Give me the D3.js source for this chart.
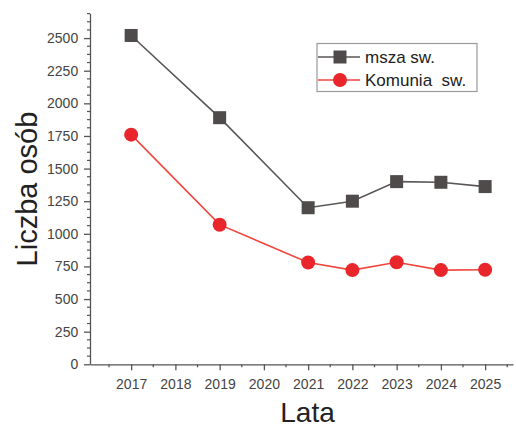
<!DOCTYPE html>
<html>
<head>
<meta charset="utf-8">
<script src="https://cdn.jsdelivr.net/npm/d3@7"></script>
<style>
  body { margin: 0; background: #fff; }
  text { font-family: "Liberation Sans", Arial, sans-serif; }
</style>
</head>
<body>
<div id="chart"></div>
<script>
// Dane
const lata = [2017, 2019, 2021, 2022, 2023, 2024, 2025];
const msza = [2520, 1890, 1200, 1250, 1400, 1395, 1362];
const komunia = [1760, 1070, 780, 722, 782, 722, 725];
const xTicks = [2017, 2018, 2019, 2020, 2021, 2022, 2023, 2024, 2025];
const yTicks = [0, 250, 500, 750, 1000, 1250, 1500, 1750, 2000, 2250, 2500];
const serie = [
    { nazwa: "msza sw.", wartosci: msza, kolor: "#4f4b4b", linia: "#5a5656", ksztalt: "square" },
    { nazwa: "Komunia  sw.", wartosci: komunia, kolor: "#e8262b", linia: "#f0463c", ksztalt: "circle" }
];

const width = 516, height = 429;

const svg = d3.select("#chart").append("svg")
    .attr("width", width)
    .attr("height", height);

const x = d3.scaleLinear()
    .domain([2016.07, 2025.63])
    .range([90, 513]);

const y = d3.scaleLinear()
    .domain([0, 2690])
    .range([364.3, 13.3]);

// Oś X
const xAxis = svg.append("g")
    .attr("transform", `translate(0,${y(0)})`);
xAxis.call(d3.axisBottom(x).tickValues(xTicks).tickFormat(d3.format("d")).tickSize(6).tickSizeOuter(0));
xAxis.selectAll("text").attr("font-size", 14).attr("fill", "#444").attr("dy", "1.15em");
xAxis.select(".domain").attr("stroke", "#555").attr("stroke-width", 1.3);
xAxis.selectAll(".tick line").attr("stroke", "#555").attr("stroke-width", 1.3);

// podziałka pomocnicza X
const xMinor = d3.range(2016.5, 2025.6, 1);
svg.append("g").selectAll("line")
    .data(xMinor)
    .enter()
    .append("line")
    .attr("x1", d => x(d))
    .attr("x2", d => x(d))
    .attr("y1", y(0))
    .attr("y2", y(0) + 3)
    .attr("stroke", "#555")
    .attr("stroke-width", 1.3);

// Oś Y
const yAxis = svg.append("g")
    .attr("transform", `translate(${x(2016.07)},0)`);
yAxis.call(d3.axisLeft(y).tickValues(yTicks).tickFormat(d3.format("d")).tickSize(6).tickSizeOuter(0));
yAxis.selectAll("text").attr("font-size", 14).attr("fill", "#444").attr("dx", "-0.2em");
yAxis.select(".domain").attr("stroke", "#555").attr("stroke-width", 1.3);
yAxis.selectAll(".tick line").attr("stroke", "#555").attr("stroke-width", 1.3);

// podziałka pomocnicza Y
const yMinor = d3.range(62.5, 2690, 62.5).filter(v => v % 250 !== 0);
svg.append("g").selectAll("line")
    .data(yMinor)
    .enter()
    .append("line")
    .attr("x1", x(2016.07))
    .attr("x2", x(2016.07) - 3)
    .attr("y1", d => y(d))
    .attr("y2", d => y(d))
    .attr("stroke", "#555")
    .attr("stroke-width", 1.2);

// Tytuły osi
svg.append("text")
    .attr("transform", "translate(37,189) rotate(-90)")
    .attr("text-anchor", "middle")
    .attr("font-size", 29)
    .attr("fill", "#222")
    .text("Liczba osób");

svg.append("text")
    .attr("x", 307.5)
    .attr("y", 422)
    .attr("text-anchor", "middle")
    .attr("font-size", 28)
    .attr("fill", "#222")
    .text("Lata");

// Linie i znaczniki
const line = d3.line()
    .x(d => x(d[0]))
    .y(d => y(d[1]));

serie.forEach(s => {
    const pts = lata.map((r, i) => [r, s.wartosci[i]]);
    svg.append("path")
        .datum(pts)
        .attr("fill", "none")
        .attr("stroke", s.linia)
        .attr("stroke-width", 1.6)
        .attr("d", line);

    if (s.ksztalt === "square") {
        svg.selectAll(".sq")
            .data(pts)
            .enter()
            .append("rect")
            .attr("x", d => x(d[0]) - 6.5)
            .attr("y", d => y(d[1]) - 6.5)
            .attr("width", 13)
            .attr("height", 13)
            .attr("fill", s.kolor);
    } else {
        svg.selectAll(".ci")
            .data(pts)
            .enter()
            .append("circle")
            .attr("cx", d => x(d[0]))
            .attr("cy", d => y(d[1]))
            .attr("r", 7)
            .attr("fill", s.kolor);
    }
});

// Legenda
const legend = svg.append("g")
    .attr("transform", "translate(317,43.5)");

legend.append("rect")
    .attr("width", 160)
    .attr("height", 48)
    .attr("fill", "#fff")
    .attr("stroke", "#999")
    .attr("stroke-width", 1.2);

serie.forEach((s, i) => {
    const yy = 13.5 + i * 23;
    legend.append("line")
        .attr("x1", 1)
        .attr("x2", 43)
        .attr("y1", yy)
        .attr("y2", yy)
        .attr("stroke", s.linia)
        .attr("stroke-width", 1.6);
    if (s.ksztalt === "square") {
        legend.append("rect")
            .attr("x", 23 - 6.5)
            .attr("y", yy - 6.5)
            .attr("width", 13)
            .attr("height", 13)
            .attr("fill", s.kolor);
    } else {
        legend.append("circle")
            .attr("cx", 23)
            .attr("cy", yy)
            .attr("r", 7)
            .attr("fill", s.kolor);
    }
    legend.append("text")
        .attr("x", 48)
        .attr("y", yy + 6)
        .attr("font-size", 17)
        .attr("fill", "#222")
        .style("white-space", "pre")
        .text(s.nazwa);
});
</script>
</body>
</html>
